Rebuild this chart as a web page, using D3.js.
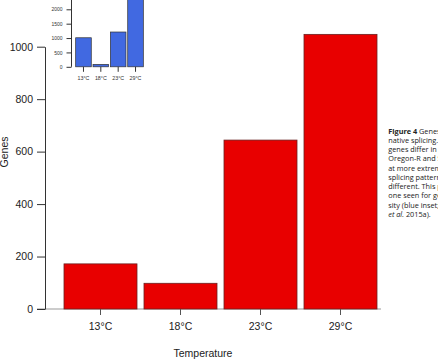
<!DOCTYPE html>
<html><head><meta charset="utf-8">
<script src="https://cdn.jsdelivr.net/npm/d3@7"></script>
<style>
html,body{margin:0;padding:0;background:#fff;overflow:hidden}
svg{display:block}
</style></head>
<body>
<svg id="c" width="438" height="364"></svg>
<script>
const categories = ["13°C","18°C","23°C","29°C"];
const mainValues = [172, 98, 644, 1047];
const mainTicks = [0, 200, 400, 600, 800, 1000];
const insetValues = [1010, 85, 1210, 2600];
const insetTicks = [0, 500, 1000, 1500, 2000];
const captionLines = [
  ["Figure 4", " Genes with alter-"],
  ["", "native splicing. The number of"],
  ["", "genes differ in splicing between"],
  ["", "Oregon-R and Samarkand increases"],
  ["", "at more extreme temperatures. The"],
  ["", "splicing patterns are markedly"],
  ["", "different. This pattern is like the"],
  ["", "one seen for genes with diver-"],
  ["", "sity (blue inset; from Chen"],
  ["", "et al. 2015a)."]
];

const svg = d3.select("#c");
const font = "'Liberation Sans', Arial, sans-serif";
const fmt = d3.format("d");

// main chart
const x = d3.scaleBand().domain(categories).range([60.5, 380.5]).paddingInner(0.0875).paddingOuter(0.04375);
const y = d3.scaleLinear().domain([0, 1000]).range([309, 46.7]);

svg.append("line").attr("x1", 37).attr("x2", 381).attr("y1", y(0)).attr("y2", y(0))
  .attr("stroke", "#999").attr("stroke-width", 1);

svg.append("g").selectAll("rect").data(mainValues).join("rect")
  .attr("x", (d,i) => x(categories[i]))
  .attr("width", x.bandwidth())
  .attr("y", d => y(d))
  .attr("height", d => y(0) - y(d))
  .attr("fill", "#e80000")
  .attr("stroke", "#6a2222").attr("stroke-width", 0.8);

const yAxis = d3.axisLeft(y).tickValues(mainTicks).tickFormat(fmt).tickSize(8).tickPadding(4).tickSizeOuter(0);
const gy = svg.append("g").attr("transform", "translate(45,0)").call(yAxis);
gy.select(".domain").attr("stroke", "#333");
gy.selectAll(".tick line").attr("stroke", "#333");
gy.selectAll("text").attr("font-family", font).attr("font-size", 10.5).attr("fill", "#222");

const xAxis = d3.axisBottom(x).tickSize(6).tickPadding(8).tickSizeOuter(0);
const gx = svg.append("g").attr("transform", `translate(0,${y(0)})`).call(xAxis);
gx.select(".domain").remove();
gx.selectAll(".tick line").attr("stroke", "#555");
gx.selectAll("text").attr("font-family", font).attr("font-size", 10.5).attr("fill", "#222");

svg.append("text").attr("x", 203).attr("y", 357).attr("text-anchor", "middle")
  .attr("font-family", font).attr("font-size", 10.5).attr("fill", "#222").text("Temperature");
svg.append("text").attr("transform", "translate(7.5,152) rotate(-90)").attr("text-anchor", "middle")
  .attr("font-family", font).attr("font-size", 10.5).attr("fill", "#222").text("Genes");

// inset
const xi = d3.scaleBand().domain(categories).range([74.8, 144.2]).paddingInner(0.1).paddingOuter(0.05);
const yi = d3.scaleLinear().domain([0, 2000]).range([66.8, 9.3]);

svg.append("g").selectAll("rect").data(insetValues).join("rect")
  .attr("x", (d,i) => xi(categories[i]))
  .attr("width", xi.bandwidth())
  .attr("y", d => yi(d))
  .attr("height", d => yi(0) - yi(d))
  .attr("fill", "#4169e1")
  .attr("stroke", "#333").attr("stroke-width", 0.7);

const yiAxis = d3.axisLeft(yi).tickValues(insetTicks).tickFormat(fmt).tickSize(5).tickPadding(4).tickSizeOuter(0);
const giy = svg.append("g").attr("transform", "translate(71.5,0)").call(yiAxis);
giy.select(".domain").remove();
giy.append("line").attr("x1", 0).attr("x2", 0).attr("y1", yi(0)).attr("y2", yi(2600))
  .attr("stroke", "#333");
giy.selectAll(".tick line").attr("stroke", "#333");
giy.selectAll("text").attr("font-family", font).attr("font-size", 5).attr("fill", "#333");

const xiAxis = d3.axisBottom(xi).tickSize(5).tickPadding(4).tickSizeOuter(0);
const gix = svg.append("g").attr("transform", `translate(0,${yi(0)})`).call(xiAxis);
gix.select(".domain").remove();
gix.selectAll(".tick line").attr("stroke", "#333");
gix.selectAll("text").attr("font-family", font).attr("font-size", 5.3).attr("fill", "#333");

// caption
const cap = svg.append("g").attr("font-family", "'Open Sans', sans-serif").attr("font-size", 7.3).attr("fill", "#222");
captionLines.forEach((ln, i) => {
  const t = cap.append("text").attr("x", 388.3).attr("y", 133.6 + i * 9.25);
  if (ln[0]) t.append("tspan").attr("font-weight", "bold").text(ln[0]);
  if (i === captionLines.length - 1) {
    t.append("tspan").attr("font-style", "italic").text("et al.");
    t.append("tspan").text(" 2015a).");
  } else {
    t.append("tspan").text(ln[1]);
  }
});
</script>
</body></html>
